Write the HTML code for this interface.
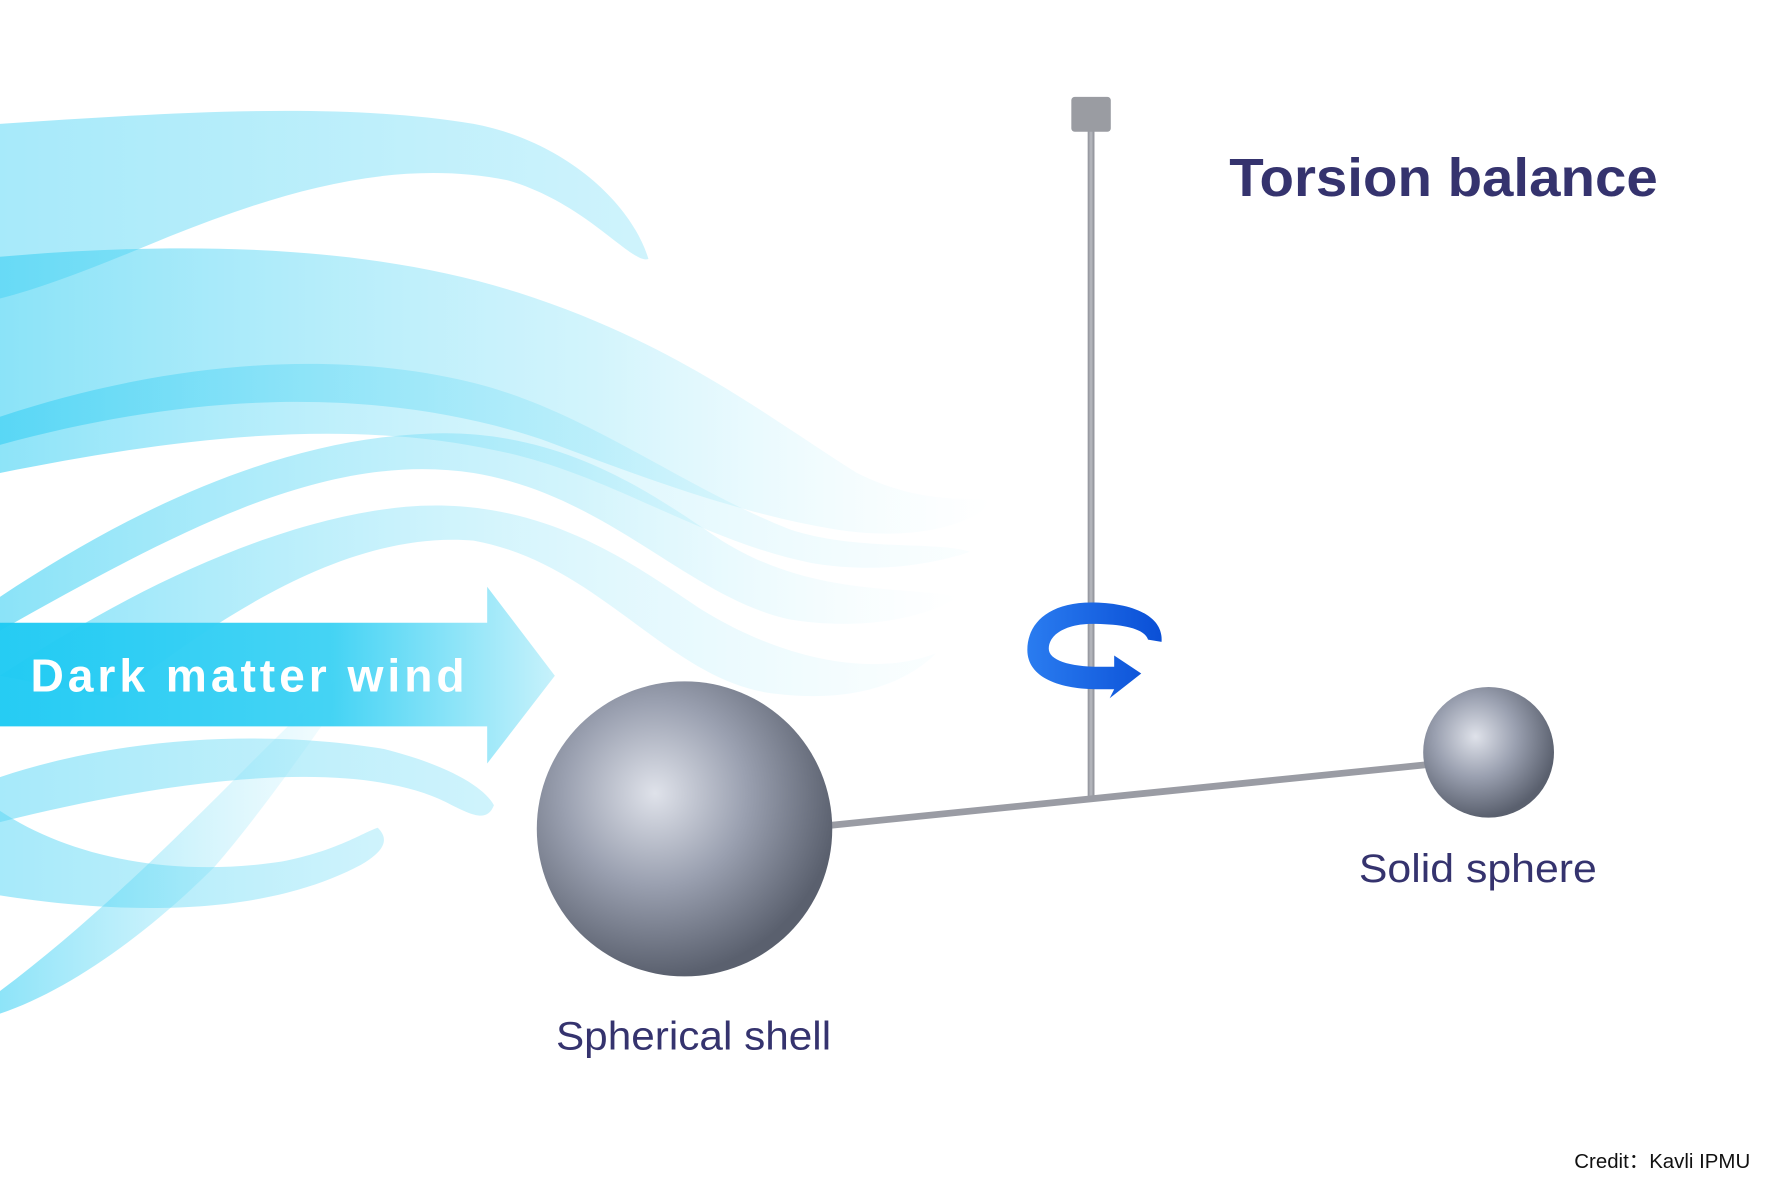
<!DOCTYPE html>
<html><head><meta charset="utf-8"><style>
html,body{margin:0;padding:0;background:#fff;}
svg{display:block;}
</style></head><body>
<svg width="1766" height="1178" viewBox="0 0 1566 1046" preserveAspectRatio="none" xmlns="http://www.w3.org/2000/svg">
<defs>
<linearGradient id="w1" x1="0" y1="0" x2="1" y2="0"><stop offset="0" stop-color="#5fd8f5" stop-opacity="0.55"/><stop offset="1" stop-color="#5fd8f5" stop-opacity="0.3"/></linearGradient>
<linearGradient id="w2" x1="0" y1="0" x2="1" y2="0"><stop offset="0" stop-color="#3dd0f3" stop-opacity="0.6"/><stop offset="0.6" stop-color="#7fe0f7" stop-opacity="0.35"/><stop offset="1" stop-color="#bff0fb" stop-opacity="0"/></linearGradient>
<linearGradient id="w3" x1="0" y1="0" x2="1" y2="0"><stop offset="0" stop-color="#30cdf3" stop-opacity="0.55"/><stop offset="1" stop-color="#9fe8f9" stop-opacity="0.05"/></linearGradient>
<linearGradient id="band" x1="0" y1="0" x2="1" y2="0"><stop offset="0" stop-color="#1fcaf3"/><stop offset="0.6" stop-color="#3fd2f4"/><stop offset="1" stop-color="#c5f1fb"/></linearGradient>
<radialGradient id="bs" cx="0.4" cy="0.38" r="0.62"><stop offset="0" stop-color="#dfe2ea"/><stop offset="0.5" stop-color="#9aa0b0"/><stop offset="1" stop-color="#5a606e"/></radialGradient>
<linearGradient id="ar" x1="0" y1="0" x2="1" y2="0"><stop offset="0" stop-color="#2a7cf0"/><stop offset="1" stop-color="#0a4fd6"/></linearGradient>
<linearGradient id="rod" x1="0" y1="0" x2="1" y2="0"><stop offset="0" stop-color="#8e9098"/><stop offset="0.5" stop-color="#b8bac0"/><stop offset="1" stop-color="#8a8c94"/></linearGradient>
</defs>
<path d="M0 110 C150 100 300 90 420 110 C500 125 560 180 575 230 C560 235 520 180 450 160 C350 140 250 170 150 210 C90 235 40 255 0 265 Z" fill="url(#w1)"/>
<path d="M0 228 C150 215 320 215 460 260 C600 305 680 370 760 420 C820 450 860 440 880 445 C860 470 800 480 740 470 C650 455 560 420 480 390 C360 350 200 340 0 395 Z" fill="url(#w2)"/>
<path d="M0 370 C150 320 300 310 420 340 C520 365 600 430 700 470 C760 490 830 480 860 490 C830 500 780 510 720 500 C620 480 540 420 440 400 C300 370 150 390 0 420 Z" fill="url(#w3)"/>
<path d="M0 530 C120 450 250 390 380 385 C500 380 580 440 640 480 C720 530 800 520 850 530 C820 550 760 560 700 550 C610 530 540 440 420 420 C290 400 160 470 0 560 Z" fill="url(#w2)"/>
<path d="M0 600 C120 520 250 460 360 450 C480 440 560 500 620 540 C700 590 780 600 830 580 C800 610 750 625 680 615 C590 600 530 500 420 480 C300 470 180 560 100 620 Z" fill="url(#w3)"/>
<path d="M0 690 C120 650 250 650 340 665 C400 680 430 700 438 715 C432 730 420 725 395 712 C330 680 200 680 0 730 Z" fill="url(#w1)"/>
<path d="M0 720 C60 760 150 780 250 765 C300 755 320 740 335 735 C345 745 342 755 320 768 C260 800 160 820 0 795 Z" fill="url(#w1)"/>
<path d="M0 880 C80 820 150 750 220 680 C260 640 300 600 340 570 C300 620 250 700 190 770 C130 830 60 880 0 900 Z" fill="url(#w3)"/>
<path d="M0 553 L432 553 L432 521 L492 600 L432 678 L432 645 L0 645 Z" fill="url(#band)" opacity="0.97"/>
<text x="27" y="614" font-family="Liberation Sans, sans-serif" font-weight="bold" font-size="41" fill="#fff" textLength="385" lengthAdjust="spacing">Dark matter wind</text>
<rect x="964.5" y="112" width="6" height="598" fill="url(#rod)"/>
<rect x="950" y="86" width="35" height="31" rx="3" fill="#9a9ca2"/>
<line x1="735" y1="733" x2="1285" y2="677" stroke="#9a9ca4" stroke-width="6"/>
<circle cx="607" cy="736" r="131" fill="url(#bs)"/>
<circle cx="1320" cy="668" r="58" fill="url(#bs)"/>
<path d="M1030 570 C1032 545 1000 535 968 535 C928 535 911 555 911 577 C911 602 940 612 975 612 L988 612 L984 620 L1012 598 L988 582 L988 592 L975 592 C948 592 930 586 930 576 C930 562 948 554 968 554 C995 554 1015 558 1018 568 Z" fill="url(#ar)"/>
<text x="1090" y="174" font-family="Liberation Sans, sans-serif" font-weight="bold" font-size="48" fill="#35336e" textLength="380" lengthAdjust="spacingAndGlyphs">Torsion balance</text>
<text x="1205" y="783" font-family="Liberation Sans, sans-serif" font-size="35" fill="#35336e" textLength="211" lengthAdjust="spacingAndGlyphs">Solid sphere</text>
<text x="493" y="932" font-family="Liberation Sans, sans-serif" font-size="35" fill="#35336e" textLength="244" lengthAdjust="spacingAndGlyphs">Spherical shell</text>
<text x="1396" y="1037" font-family="Liberation Sans, sans-serif" font-size="18" fill="#111" textLength="156" lengthAdjust="spacingAndGlyphs">Credit：Kavli IPMU</text>
</svg>
</body></html>
